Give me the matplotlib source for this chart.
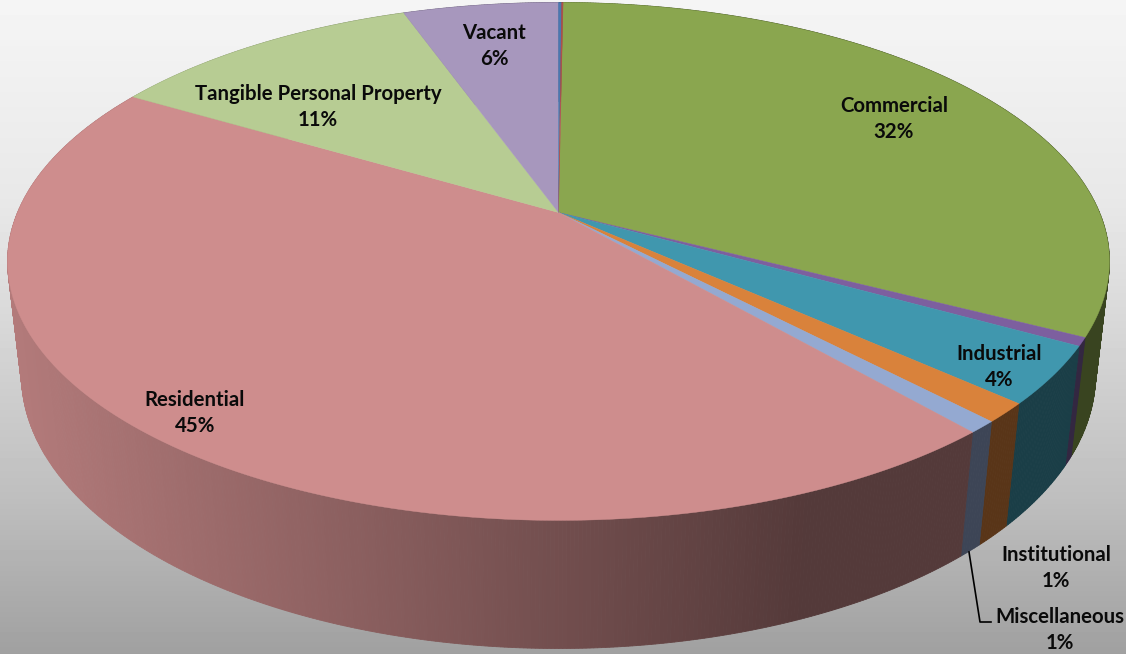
import numpy as np
import matplotlib
matplotlib.use('Agg')
import matplotlib.pyplot as plt

# slices clockwise starting just right of 12 o'clock, share of total in percent
categories = ['Commercial', 'Other A', 'Industrial', 'Institutional', 'Miscellaneous',
              'Residential', 'Tangible Personal Property', 'Vacant', 'Other B', 'Other C']
values = [32.4, 0.52, 3.58, 1.2, 0.75, 44.86, 11.06, 5.47, 0.11, 0.05]
colors = ['#8aa64f', '#7d5f9f', '#4097ae', '#d9823b', '#94a9d1',
          '#ce8d8d', '#b7cc93', '#a797bd', '#4a78b0', '#b0504d']

labels = {
    'Commercial': ('32%', 894, 119),
    'Tangible Personal Property': ('11%', 318, 107),
    'Vacant': ('6%', 494, 46),
    'Industrial': ('4%', 999, 367),
    'Residential': ('45%', 195, 413),
    'Institutional': ('1%', 1056, 568),
    'Miscellaneous': ('1%', 1060, 630),
}

# pie projection, all in pixels
cx, cy = 558.5, 212.5
A, B = 541.0, 249.7
k, m = 0.189, 0.025
D = 114.8


def project(theta, z):
    u, v = np.sin(theta), np.cos(theta)
    w = 1 + k * v + m * z
    return cx + A * u / w, cy + (D * z - B * v) / w


def side_shade(x):
    return np.interp(x, [15, 400, 600, 800, 1126], [0.87, 0.65, 0.53, 0.41, 0.41])


fig = plt.figure(figsize=(11.26, 6.54), dpi=100)
ax = fig.add_axes([0, 0, 1, 1])
ax.set_xlim(0, 1126)
ax.set_ylim(654, 0)
ax.axis('off')

# background gradient
ys = np.arange(654)
grey = np.interp(ys, [0, 200, 280, 500, 654], [245, 232, 222, 190, 160]) / 255
ax.imshow(grey[:, None], extent=[0, 1126, 654, 0], cmap='gray', vmin=0, vmax=1,
          aspect='auto', zorder=0)

# last two thin slices sit just before commercial, past the top
start = (values[-1] + values[-2]) / np.sum(values) * 2 * np.pi
edges = start + np.concatenate([[0], np.cumsum(values)]) / np.sum(values) * 2 * np.pi

# side wall, back to front
quads = []
for i, col in enumerate(colors):
    n = max(2, int((edges[i + 1] - edges[i]) / 0.006))
    t = np.linspace(edges[i], edges[i + 1], n + 1)
    rgb = np.array(matplotlib.colors.to_rgb(col))
    for a, b in zip(t[:-1], t[1:]):
        quads.append((np.cos((a + b) / 2), a, b, rgb))
quads.sort(key=lambda q: -q[0])
for _, a, b, rgb in quads:
    x1, y1 = project(np.array([a, b]), 0)
    x2, y2 = project(np.array([b, a]), 1)
    xs = np.concatenate([x1, x2])
    c = rgb * side_shade(xs.mean())
    ax.fill(xs, np.concatenate([y1, y2]), color=c, lw=0.6, zorder=1)

# top face
for i, col in enumerate(colors):
    t = np.linspace(edges[i], edges[i + 1], max(3, int((edges[i + 1] - edges[i]) / 0.005)))
    x, y = project(t, 0)
    ax.fill(np.r_[cx, x], np.r_[cy, y], color=col, lw=0.3, zorder=2)

for name, (pct, lx, ly) in labels.items():
    ax.text(lx, ly, name + '\n' + pct, ha='center', va='center', fontsize=14.7,
            fontweight='bold', family='Lato', color='#0a0a0a', linespacing=1.37, zorder=4)

# leader for Miscellaneous
ax.plot([969, 980, 991], [552, 622, 622], color='black', lw=1.2, zorder=3)

fig.savefig('out.png', dpi=100)
